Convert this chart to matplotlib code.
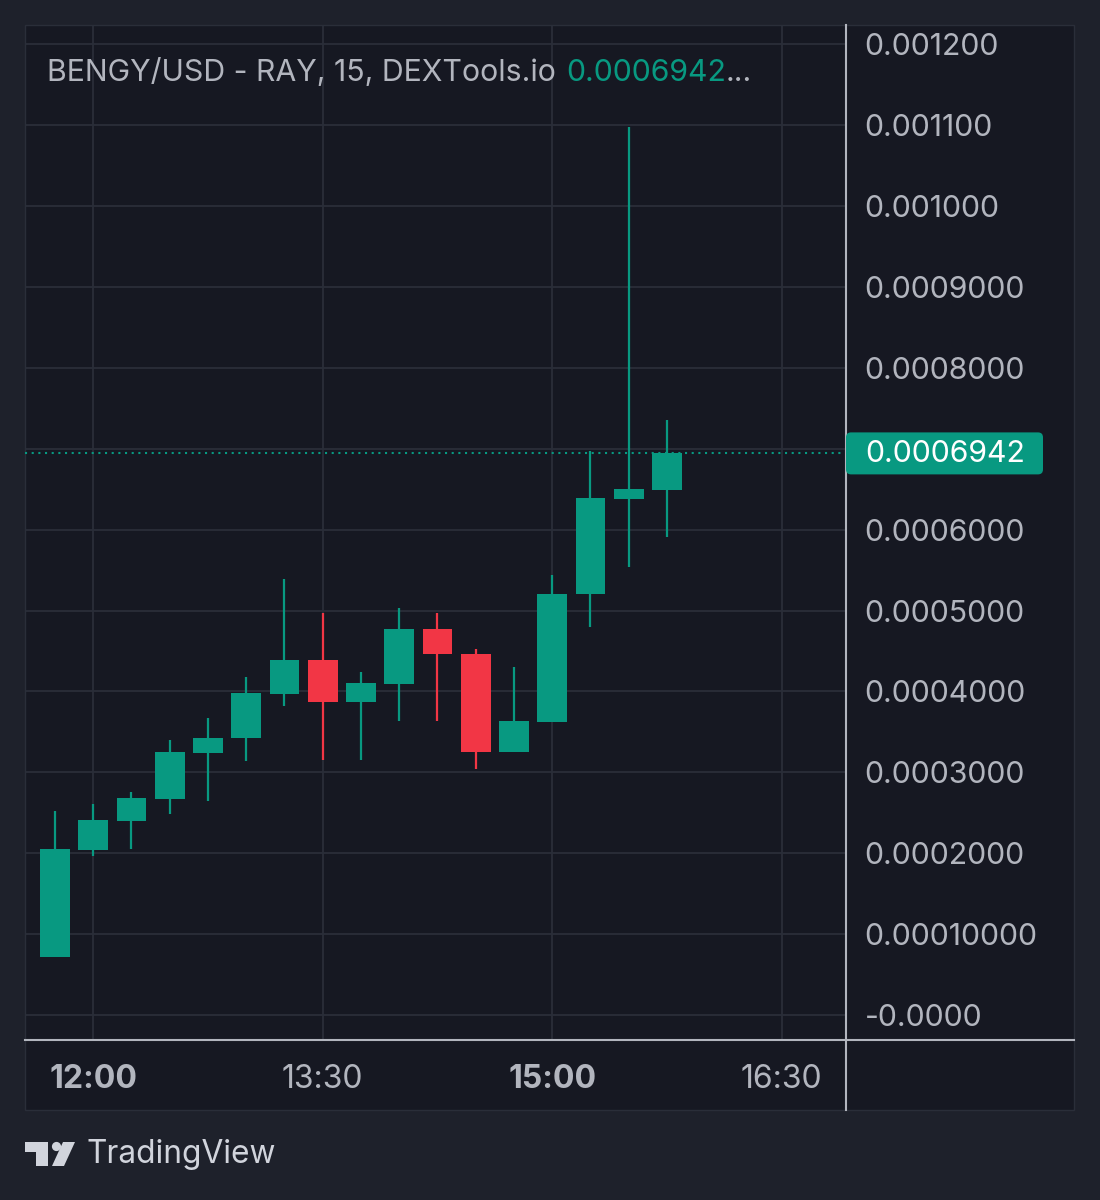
import matplotlib
matplotlib.use("Agg")
import matplotlib.pyplot as plt
from matplotlib.patches import Rectangle, FancyBboxPatch, Polygon, Circle
from matplotlib.lines import Line2D
from matplotlib.transforms import IdentityTransform, blended_transform_factory
import numpy as np

# candle data, 15 min bars from 11:45
opens = [0.0000717, 0.000204, 0.000240, 0.000267, 0.000324, 0.000342, 0.000397, 0.000439,
         0.000387, 0.000409, 0.000477, 0.000446, 0.000325, 0.000362, 0.000520, 0.000638, 0.000649]
highs = [0.0002522, 0.000261, 0.000276, 0.000340, 0.000367, 0.000418, 0.000539, 0.000497,
         0.000424, 0.000503, 0.000497, 0.000452, 0.000430, 0.000544, 0.000697, 0.001098, 0.000735]
lows = [0.0000717, 0.0001965, 0.000205, 0.000248, 0.000265, 0.000314, 0.000382, 0.000315,
        0.000315, 0.000363, 0.000363, 0.000304, 0.000325, 0.000362, 0.000480, 0.000554, 0.000591]
closes = [0.000205, 0.000241, 0.000268, 0.000325, 0.000342, 0.000398, 0.000439, 0.000387,
          0.000410, 0.000477, 0.000446, 0.000325, 0.000363, 0.000520, 0.000639, 0.000650, 0.0006942]

price_ticks = [0.0, 0.0001, 0.0002, 0.0003, 0.0004, 0.0005, 0.0006, 0.0007,
               0.0008, 0.0009, 0.0010, 0.0011, 0.0012]
price_labels = ["-0.0000", "0.00010000", "0.0002000", "0.0003000", "0.0004000", "0.0005000",
                "0.0006000", "", "0.0008000", "0.0009000", "0.001000", "0.001100", "0.001200"]

time_ticks = [1, 7, 13, 19]  # bar index
time_labels = ["12:00", "13:30", "15:00", "16:30"]
time_bold = [True, False, True, False]

title = "BENGY/USD - RAY, 15, DEXTools.io"
last_price = "0.0006942"

W, H = 1100, 1200
BG = "#1e212b"
PANEL = "#161822"
GRID = "#2a2e39"
TXT = "#b2b5be"
UP = "#089981"
DOWN = "#f23645"
FONT = ["Inter", "DejaVu Sans"]
FS = 21.8

plt.rcParams['font.family'] = FONT

fig = plt.figure(figsize=(11, 12), dpi=100, facecolor=BG)

# panel background (pixels, y from bottom)
fig.add_artist(Rectangle((25, H - 1110), 1049, 1085, transform=IdentityTransform(),
                         facecolor=PANEL, edgecolor=GRID, lw=1, zorder=-10))

ax = fig.add_axes([25 / W, (H - 1040) / H, 820 / W, 1015 / H])
ax.set_facecolor(PANEL)
ax.patch.set_alpha(0)
ax.set_xlim(-0.784, 20.654)
ax.set_ylim(-0.0000309, 0.00122373)
for s in ax.spines.values():
    s.set_visible(False)

ax.set_yticks(price_ticks)
ax.set_yticklabels(price_labels)
ax.yaxis.tick_right()
ax.tick_params(axis='y', length=0, pad=14, labelsize=FS, labelcolor=TXT)
ax.set_xticks(time_ticks)
ax.set_xticklabels([])
ax.tick_params(axis='x', length=0)
ax.grid(True, color=GRID, lw=1.3)
ax.set_axisbelow(True)

x = np.arange(len(opens))
colors = [UP if c >= o else DOWN for o, c in zip(opens, closes)]
ax.vlines(x, lows, highs, colors=colors, lw=1.6, zorder=3)
bottoms = [min(o, c) for o, c in zip(opens, closes)]
heights = [abs(c - o) for o, c in zip(opens, closes)]
ax.bar(x, heights, bottom=bottoms, width=0.78, color=colors, lw=0, zorder=4)

last = closes[-1]
ax.axhline(last, color=UP, lw=1.5, linestyle=(0, (1, 2.2)), zorder=2)

# time labels
tr = blended_transform_factory(ax.transData, ax.transAxes)
for t, lab, b in zip(time_ticks, time_labels, time_bold):
    ax.text(t, -40 / 1015, lab, transform=tr, ha='center', va='center', fontsize=23,
            color=TXT, fontweight='bold' if b else 'normal', clip_on=False)

# axis separators
fig.add_artist(Line2D([845.5, 845.5], [H - 1110, H - 25], transform=IdentityTransform(),
                      color=TXT, lw=1.5, zorder=4))
fig.add_artist(Line2D([25, 1074], [H - 1040, H - 1040], transform=IdentityTransform(),
                      color=TXT, lw=1.5, zorder=4))

# last price tag
fig.canvas.draw()
ypix = ax.transData.transform((0, last))[1]
fig.add_artist(FancyBboxPatch((846, ypix - 21), 197, 42, boxstyle="round,pad=0,rounding_size=5",
                              transform=IdentityTransform(), facecolor=UP, edgecolor='none', zorder=5))
fig.text(865, ypix - 1, last_price, transform=IdentityTransform(), color='white', fontsize=FS,
         ha='left', va='center', zorder=6)

# legend line
fig.text(47, H - 73, title, transform=IdentityTransform(), color=TXT, fontsize=FS,
         ha='left', va='center')
fig.text(566, H - 73, last_price, transform=IdentityTransform(), color=UP, fontsize=FS,
         ha='left', va='center')
fig.text(726, H - 73, "...", transform=IdentityTransform(), color=TXT, fontsize=FS,
         ha='left', va='center')

# TradingView logo
LOGO = "#d1d4dc"
fig.add_artist(Polygon([(25, H - 1142), (48, H - 1142), (48, H - 1166), (36, H - 1166),
                        (36, H - 1152), (25, H - 1152)], closed=True,
                       transform=IdentityTransform(), facecolor=LOGO, edgecolor='none'))
fig.add_artist(Circle((56.5, H - 1146.5), 4.6, transform=IdentityTransform(),
                      facecolor=LOGO, edgecolor='none'))
fig.add_artist(Polygon([(63, H - 1142), (75, H - 1142), (64, H - 1166), (52, H - 1166)],
                       closed=True, transform=IdentityTransform(), facecolor=LOGO, edgecolor='none'))
fig.text(86, H - 1155, "TradingView", transform=IdentityTransform(), color=LOGO, fontsize=22.8,
         ha='left', va='center')

fig.savefig("out.png", dpi=100, facecolor=BG)
